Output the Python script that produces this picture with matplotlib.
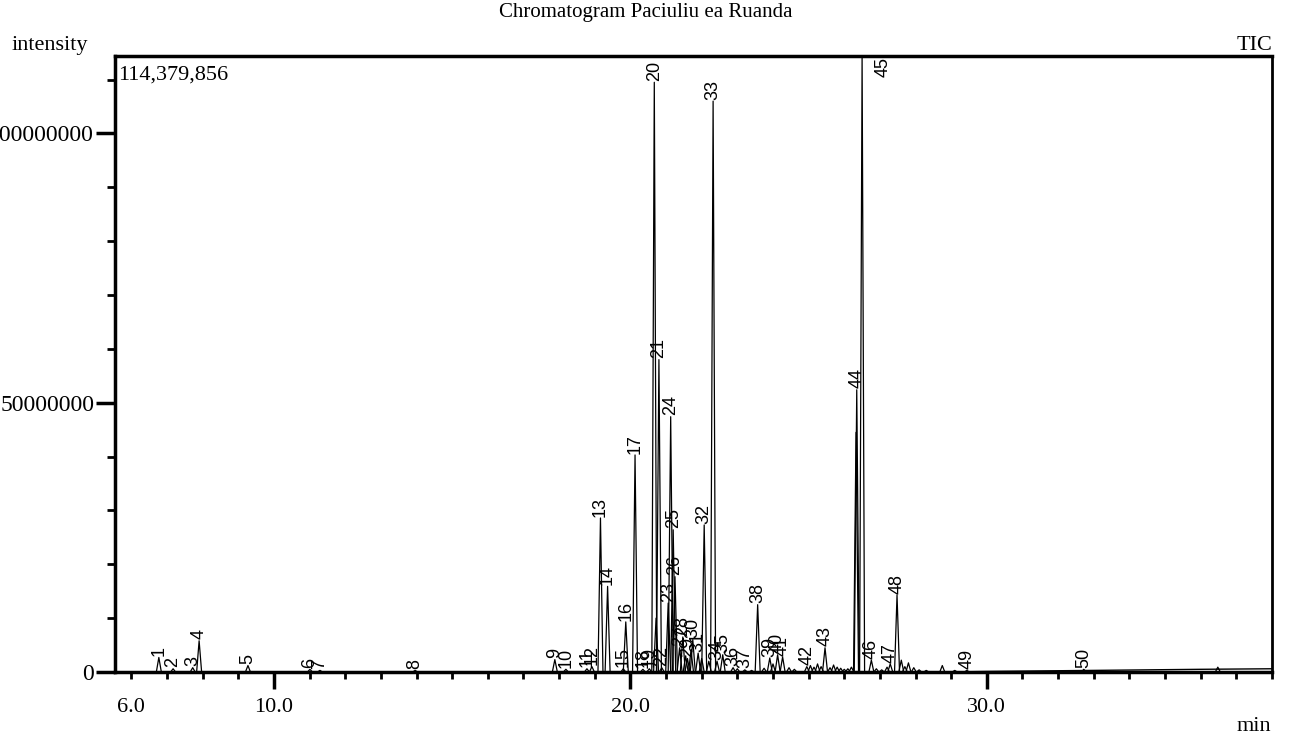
import matplotlib
matplotlib.use('Agg')
import matplotlib.pyplot as plt
from matplotlib.ticker import FixedLocator, FixedFormatter

# Picchi etichettati: numero, tempo di ritenzione (min), altezza (counts)
peak_num = list(range(1, 51))
peak_time = [6.77, 7.17, 7.72, 7.90, 9.27, 11.01, 11.29, 13.96, 17.88, 18.19,
             18.78, 18.92, 19.16, 19.36, 19.80, 19.87, 20.13, 20.35, 20.53, 20.67,
             20.80, 20.88, 21.06, 21.13, 21.20, 21.25, 21.38, 21.47, 21.60, 21.75,
             21.90, 22.07, 22.32, 22.43, 22.59, 22.88, 23.21, 23.57, 23.91, 24.13,
             24.27, 24.95, 25.46, 26.35, 26.50, 26.76, 27.29, 27.48, 29.44, 32.72]
peak_height = [2.7e6, 0.6e6, 0.8e6, 5.8e6, 1.2e6, 0.5e6, 0.3e6, 0.3e6, 2.3e6, 0.5e6,
               0.6e6, 1.0e6, 28.6e6, 15.9e6, 0.6e6, 9.3e6, 40.3e6, 0.5e6, 0.6e6, 109.5e6,
               58.0e6, 0.8e6, 12.8e6, 47.4e6, 26.4e6, 17.7e6, 4.5e6, 6.5e6, 2.5e6, 6.0e6,
               3.5e6, 27.3e6, 106.0e6, 2.0e6, 3.2e6, 0.8e6, 0.4e6, 12.5e6, 2.6e6, 3.2e6,
               2.8e6, 1.0e6, 4.5e6, 52.4e6, 114.38e6, 2.2e6, 1.5e6, 14.3e6, 0.3e6, 0.5e6]

# Picchi minori senza etichetta (spalle e rumore)
minor_time = [20.72, 21.55, 21.70, 22.00, 22.20, 23.00, 23.40, 23.75, 24.00, 24.45,
              24.60, 25.05, 25.15, 25.25, 25.35, 25.60, 25.70, 25.80, 25.90, 26.00,
              26.10, 26.20, 26.33, 26.90, 27.05, 27.20, 27.60, 27.70, 27.80, 27.95,
              28.10, 28.30, 28.75, 29.10, 36.48]
minor_height = [10.0e6, 3.0e6, 4.0e6, 2.5e6, 2.0e6, 0.6e6, 0.3e6, 0.7e6, 1.5e6, 0.8e6,
                0.5e6, 1.2e6, 0.9e6, 1.5e6, 1.0e6, 0.8e6, 1.3e6, 0.9e6, 0.7e6, 0.5e6,
                0.6e6, 0.9e6, 44.5e6, 0.6e6, 0.4e6, 0.9e6, 2.2e6, 1.0e6, 1.7e6, 0.8e6,
                0.4e6, 0.3e6, 1.2e6, 0.3e6, 0.9e6]

# Linea di base (deriva verso la fine della corsa)
base_time = [5.54, 29.0, 30.0, 33.0, 36.0, 38.0]
base_level = [0.0, 0.0, 0.1e6, 0.3e6, 0.5e6, 0.6e6]

y_max = 114379856
x_min, x_max = 5.54, 38.0

plt.rcParams['font.family'] = ['Liberation Serif', 'DejaVu Serif']

fig = plt.figure(figsize=(12.91, 7.35), dpi=100)
ax = fig.add_axes([115 / 1291, 1 - 672 / 735, (1272 - 115) / 1291, (672 - 56) / 735])

ax.plot(base_time, base_level, color='black', lw=1.0)

hw = 0.07  # semi-larghezza dei picchi triangolari (min)
for t, h in zip(minor_time, minor_height):
    ax.plot([t - hw, t, t + hw], [0, h, 0], color='black', lw=0.9)
for t, h in zip(peak_time, peak_height):
    ax.plot([t - hw, t, t + hw], [0, h, 0], color='black', lw=0.9)

label_font = dict(family=['Liberation Sans Narrow', 'Liberation Sans', 'DejaVu Sans'],
                  fontsize=13, rotation=90)
for n, t, h in zip(peak_num, peak_time, peak_height):
    if n == 45:
        ax.annotate(str(n), (t, y_max), xytext=(15, -1), textcoords='offset points',
                    ha='center', va='top', **label_font)
    else:
        ax.annotate(str(n), (t, h), xytext=(0, 1), textcoords='offset points',
                    ha='center', va='bottom', **label_font)

ax.set_xlim(x_min, x_max)
ax.set_ylim(0, y_max)

# assi e tacche
for side in ['left', 'bottom', 'top']:
    ax.spines[side].set_linewidth(2.5)
ax.spines['right'].set_linewidth(2.0)

ax.xaxis.set_major_locator(FixedLocator([10, 20, 30]))
ax.xaxis.set_major_formatter(FixedFormatter(['10.0', '20.0', '30.0']))
minor_x = list(range(6, 39))
ax.xaxis.set_minor_locator(FixedLocator(minor_x))
ax.xaxis.set_minor_formatter(FixedFormatter(
    ['6.0' if v == 6 else ('38.' if v == 38 else '') for v in minor_x]))
ax.tick_params(axis='x', which='major', direction='out', length=12, width=2.5,
               pad=7, labelsize=16)
ax.tick_params(axis='x', which='minor', direction='out', length=5, width=2,
               pad=14, labelsize=16)

ax.yaxis.set_major_locator(FixedLocator([0, 50000000, 100000000]))
ax.yaxis.set_major_formatter(FixedFormatter(['0', '50000000', '100000000']))
ax.yaxis.set_minor_locator(FixedLocator([v * 1e7 for v in range(1, 12)]))
ax.tick_params(axis='y', which='major', direction='out', length=14, width=2.5,
               pad=1, labelsize=17)
ax.tick_params(axis='y', which='minor', direction='out', length=6, width=2)

# testi
fig.text(646 / 1291, 1 - 13 / 735, 'Chromatogram Paciuliu ea Ruanda',
         ha='center', va='center', fontsize=15)
fig.text(12 / 1291, 1 - 50 / 735, 'intensity', ha='left', va='baseline', fontsize=16)
fig.text(1272 / 1291, 1 - 50 / 735, 'TIC', ha='right', va='baseline', fontsize=16)
fig.text(1271 / 1291, 1 - 731 / 735, 'min', ha='right', va='baseline', fontsize=16)
ax.text(0.003, 0.985, '{:,}'.format(y_max), transform=ax.transAxes,
        ha='left', va='top', fontsize=16)

fig.savefig('out.png', dpi=100)
